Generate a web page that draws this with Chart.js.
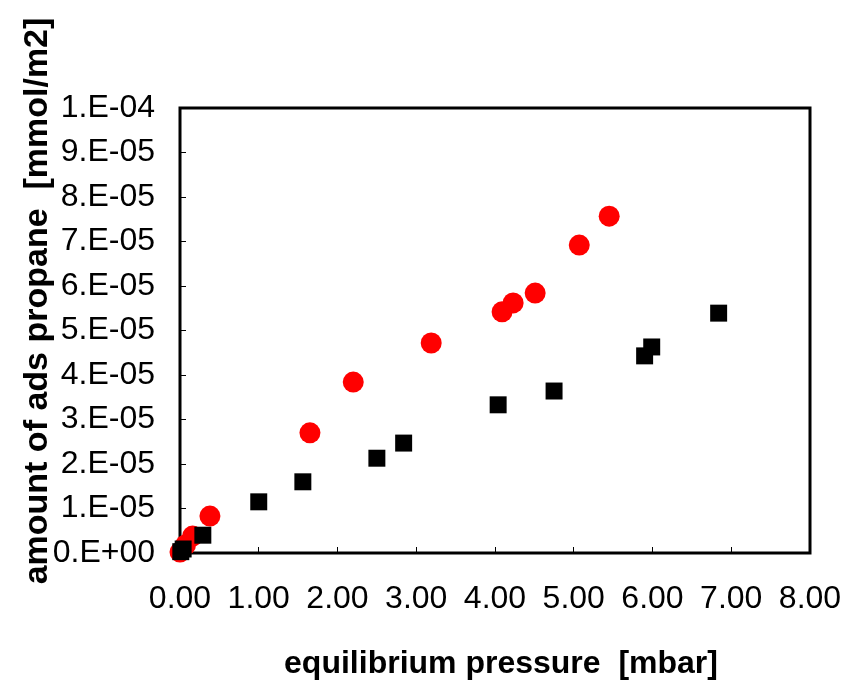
<!DOCTYPE html>
<html lang="en">
<head>
    <meta charset="UTF-8">
    <title>propane adsorption</title>
    <style>
        body{ margin:0; background:#fff; }
        canvas{ display:block; }
    </style>
</head>
<body>
    <canvas id="mychart" width="847" height="682"></canvas>
    <script src="https://cdn.jsdelivr.net/npm/chart.js@4/dist/chart.umd.min.js"></script>
    <script>
        // red circles
        const redX = [0.00, 0.07, 0.16, 0.38, 1.65, 2.20, 3.19, 4.09, 4.23, 4.51, 5.07, 5.45];
        const redY = [2e-7, 1.8e-6, 3.8e-6, 8.3e-6, 2.70e-5, 3.84e-5, 4.72e-5, 5.42e-5, 5.62e-5, 5.84e-5, 6.92e-5, 7.57e-5];
        // black squares
        const blackX = [0.01, 0.04, 0.29, 1.00, 1.56, 2.50, 2.84, 4.04, 4.75, 5.90, 5.99, 6.84];
        const blackY = [3e-7, 9e-7, 4.0e-6, 1.15e-5, 1.60e-5, 2.13e-5, 2.47e-5, 3.33e-5, 3.64e-5, 4.43e-5, 4.63e-5, 5.39e-5];

        const xTickLabels = ['0.00', '1.00', '2.00', '3.00', '4.00', '5.00', '6.00', '7.00', '8.00'];
        const yTickLabels = ['0.E+00', '1.E-05', '2.E-05', '3.E-05', '4.E-05', '5.E-05',
                             '6.E-05', '7.E-05', '8.E-05', '9.E-05', '1.E-04'];

        const xTitle = 'equilibrium pressure  [mbar]';
        const yTitle = 'amount of ads propane  [mmol/m2]';

        function toPoints(xs, ys){
            return xs.map((x, i) => ({x: x, y: ys[i]}));
        }

        const tickFont = {family: "'Liberation Sans', Arial, sans-serif", size: 32};

        // box around plot area + axis titles
        const frame = {
            id: 'frame',
            beforeDatasetsDraw(chart){
                const a = chart.chartArea;
                const ctx = chart.ctx;
                ctx.save();
                ctx.strokeStyle = '#000';
                ctx.lineWidth = 3;
                ctx.strokeRect(a.left, a.top, a.right - a.left, a.bottom - a.top);
                ctx.restore();
            },
            afterDraw(chart){
                const ctx = chart.ctx;
                ctx.save();
                ctx.fillStyle = '#000';
                ctx.font = "bold 32px 'Liberation Sans', Arial, sans-serif";
                ctx.textAlign = 'center';
                ctx.textBaseline = 'alphabetic';
                ctx.fillText(xTitle, 501, 673);
                ctx.translate(47, 301);
                ctx.rotate(-Math.PI / 2);
                ctx.font = "bold 34px 'Liberation Sans', Arial, sans-serif";
                ctx.fillText(yTitle, 0, 0);
                ctx.restore();
            }
        };

        new Chart(document.getElementById('mychart'), {
            type: 'scatter',
            data: {
                datasets: [
                    {
                        label: 'black',
                        data: toPoints(blackX, blackY),
                        pointStyle: 'rect',
                        pointRadius: 12,
                        pointHoverRadius: 12,
                        backgroundColor: '#000',
                        borderColor: '#000',
                        borderWidth: 0,
                        clip: false
                    },
                    {
                        label: 'red',
                        data: toPoints(redX, redY),
                        pointStyle: 'circle',
                        pointRadius: 10.5,
                        pointHoverRadius: 10.5,
                        backgroundColor: '#ff0000',
                        borderColor: '#ff0000',
                        borderWidth: 0,
                        clip: false
                    }
                ]
            },
            options: {
                responsive: false,
                animation: false,
                layout: {padding: {left: 0, top: 108, right: 37, bottom: 0}},
                plugins: {
                    legend: {display: false},
                    tooltip: {enabled: false}
                },
                scales: {
                    x: {
                        type: 'linear',
                        min: 0,
                        max: 8,
                        ticks: {
                            stepSize: 1,
                            color: '#000',
                            font: tickFont,
                            padding: 33,
                            maxRotation: 0,
                            callback: (v, i) => xTickLabels[i]
                        },
                        grid: {drawOnChartArea: false, tickLength: -6, color: '#000', lineWidth: 1},
                        border: {display: false},
                        afterFit: (s) => { s.height = 129; s.paddingLeft = 0; s.paddingRight = 0; }
                    },
                    y: {
                        type: 'linear',
                        min: 0,
                        max: 1e-4,
                        ticks: {
                            stepSize: 1e-5,
                            color: '#000',
                            font: tickFont,
                            padding: 31,
                            callback: (v, i) => yTickLabels[i]
                        },
                        grid: {drawOnChartArea: false, tickLength: -6, color: '#000', lineWidth: 1},
                        border: {display: false},
                        afterFit: (s) => { s.width = 180; s.paddingTop = 0; s.paddingBottom = 0; }
                    }
                }
            },
            plugins: [frame]
        });
    </script>
</body>
</html>
